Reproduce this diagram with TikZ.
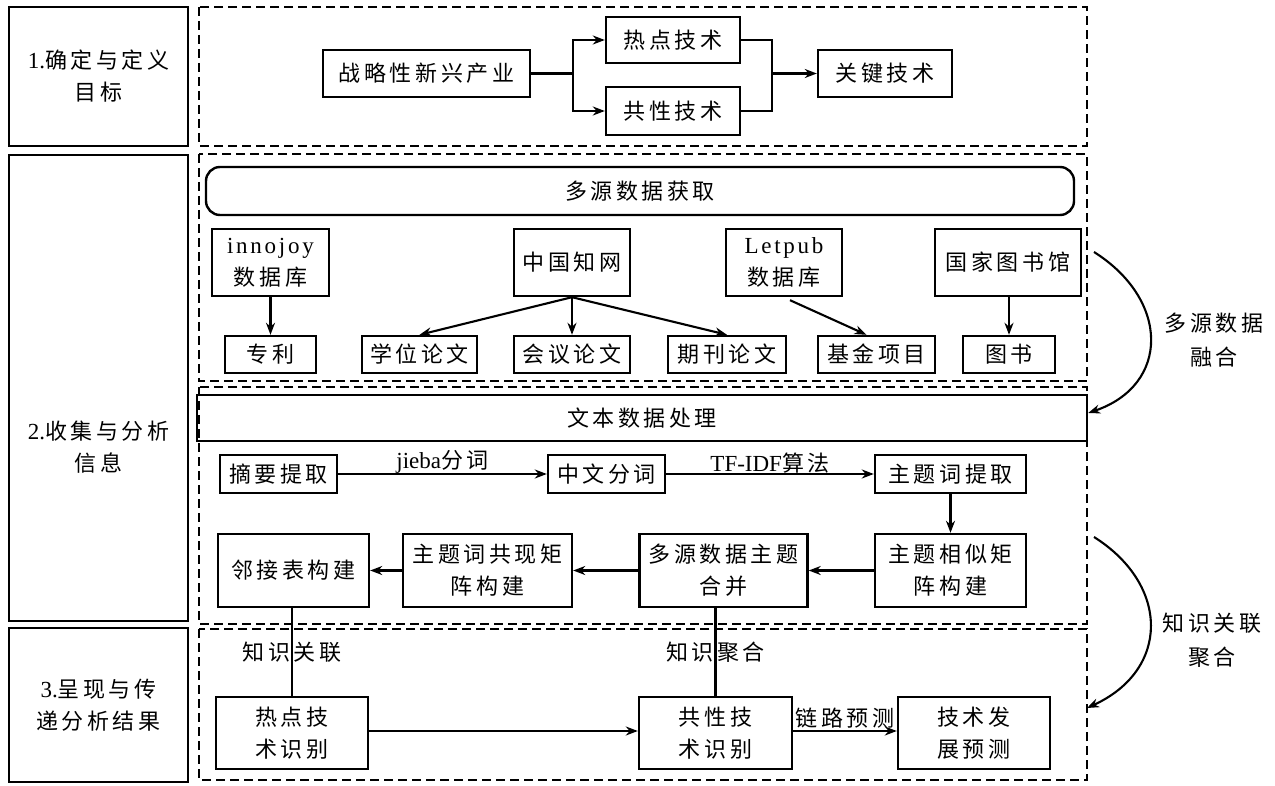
\documentclass[tikz,border=0pt]{standalone}
\usepackage{fontspec}
\setmainfont{Liberation Serif}
\newfontfamily\cjk[LetterSpace=16]{Noto Sans CJK SC}
\newfontfamily\latsp[LetterSpace=12]{Liberation Serif}
\usetikzlibrary{arrows.meta}
\newcommand\lat[1]{{\rmfamily\fontsize{23}{32}\selectfont #1}}
\newcommand\latw[1]{{\latsp\fontsize{23}{32}\selectfont #1}}
\begin{document}
\begin{tikzpicture}[x=1pt,y=-1pt,
  box/.style={draw, line width=2.4pt, inner sep=0pt, align=center, font=\cjk\fontsize{22}{32}\selectfont},
  wh/.style 2 args={minimum width=#1, minimum height=#2},
  lbl/.style={inner sep=1pt, align=center, font=\cjk\fontsize{22}{34}\selectfont},
  dbox/.style={line width=2pt, dash pattern=on 9pt off 5pt},
  arr/.style={line width=2.1pt, -{Stealth[length=12pt,width=9pt]}},
  conn/.style={line width=2.1pt}]
\useasboundingbox (0,0) rectangle (1275,786);

% left column
\node[box, wh={179}{139}] (s1) at (98.5,76.5) {\lat{1.}确定与定义\\目标};
\node[box, wh={179}{466}] (s2) at (98.5,388) {};
\node[lbl, font=\cjk\fontsize{22}{32}\selectfont] (s2t) at (98.5,447) {\lat{2.}收集与分析\\信息};
\node[box, wh={179}{154}] (s3) at (98.5,705) {\lat{3.}呈现与传\\递分析结果};

% dashed frames
\draw[dbox] (199,7) rectangle (1087,146);
\draw[dbox] (199,154) rectangle (1087,381);
\draw[dbox] (199,387) rectangle (1087,624);
\draw[dbox] (199,629) rectangle (1087,780);

% section 1
\node[box, wh={207}{47}] (zl) at (426.5,73.5) {战略性新兴产业};
\node[box, wh={134}{46}] (rd) at (673,40) {热点技术};
\node[box, wh={134}{48}] (gx) at (673,111) {共性技术};
\node[box, wh={134}{47}] (gj) at (885,73.5) {关键技术};
\draw[conn] (zl.east) -- (573,73.5) coordinate (b1);
\draw[arr] (b1) |- (rd.west);
\draw[arr] (b1) |- (gx.west);
\draw[conn] (rd.east) -| (772,73.5) coordinate (b2);
\draw[conn] (gx.east) -| (b2);
\draw[arr] (b2) -- (gj.west);

% section 2a
\node[box, wh={868}{48}, rounded corners=14pt] (dy0) at (640,191) {多源数据获取};
\node[box, wh={117}{67}] (inno) at (270.5,262.5) {\latw{innojoy}\\数据库};
\node[box, wh={116}{67}] (cnki) at (572,262.5) {中国知网};
\node[box, wh={116}{67}] (let) at (784,262.5) {\latw{Letpub}\\数据库};
\node[box, wh={146}{67}] (gjt) at (1008,262.5) {国家图书馆};
\node[box, wh={91}{37}] (zli) at (270.5,354.5) {专利};
\node[box, wh={115}{37}] (xw) at (419.5,354.5) {学位论文};
\node[box, wh={116}{37}] (hy) at (572,354.5) {会议论文};
\node[box, wh={118}{37}] (qk) at (727,354.5) {期刊论文};
\node[box, wh={117}{37}] (jj) at (876.5,354.5) {基金项目};
\node[box, wh={92}{37}] (ts) at (1009,354.5) {图书};
\draw[arr] (inno.south) -- (zli.north);
\draw[arr] (cnki.south) -- (xw.north);
\draw[arr] (cnki.south) -- (hy.north);
\draw[arr] (cnki.south) -- (qk.north);
\draw[arr] ([xshift=6pt,yshift=-3pt]let.south) -- ([xshift=-10pt]jj.north);
\draw[arr] (ts.north |- gjt.south) -- (ts.north);

% section 2b
\node[box, wh={890}{46}] (wb) at (642,418) {文本数据处理};
\node[box, wh={117}{38}] (zy) at (278.5,474) {摘要提取};
\node[box, wh={117}{38}] (zw) at (606.5,474) {中文分词};
\node[box, wh={151}{38}] (zt) at (950.5,474) {主题词提取};
\node[box, wh={151}{73}] (xs) at (950.5,570.5) {主题相似矩\\阵构建};
\node[box, wh={168}{73}] (hb) at (723.5,570.5) {多源数据主题\\合并};
\node[box, wh={169}{73}] (gx2) at (487.5,570.5) {主题词共现矩\\阵构建};
\node[box, wh={151}{73}] (lj) at (293.5,570.5) {邻接表构建};
\draw[arr] (zy.east) -- node[lbl, above, yshift=-1pt] {\lat{jieba}分词} (zw.west);
\draw[arr] (zw.east) -- node[lbl, above, yshift=-1pt] {\lat{TF-IDF}算法} (zt.west);
\draw[arr] (zt.south) -- (xs.north);
\draw[arr] (xs.west) -- (hb.east);
\draw[arr] (hb.west) -- (gx2.east);
\draw[arr] (gx2.west) -- (lj.east);

% section 3
\node[box, wh={152}{72}] (rs) at (292,733) {热点技\\术识别};
\node[box, wh={153}{72}] (gs) at (715.5,733) {共性技\\术识别};
\node[box, wh={152}{72}] (js) at (974,733) {技术发\\展预测};
\draw[conn] (lj.south -| rs.north) -- node[lbl] {知识关联} (rs.north);
\draw[conn] (hb.south -| gs.north) -- node[lbl] {知识聚合} (gs.north);
\draw[arr] ([yshift=2pt]rs.east) -- ([yshift=2pt]gs.west);
\draw[arr] ([yshift=2pt]gs.east) -- node[lbl, above, yshift=1pt] {链路预测} ([yshift=2pt]js.west);

% right curved arrows
\coordinate (c1) at (1094,252);
\coordinate (c2) at (1094,537);
\coordinate (e2) at (1087,708);
\draw[arr] (c1) .. controls (1170,300) and (1170,385) .. ([yshift=5pt]wb.east);
\draw[arr] (c2) .. controls (1170,585) and (1170,670) .. (e2);
\node[lbl] (m1) at (1214,340) {多源数据\\融合};
\node[lbl] (m2) at (1212,640) {知识关联\\聚合};
\end{tikzpicture}
\end{document}
